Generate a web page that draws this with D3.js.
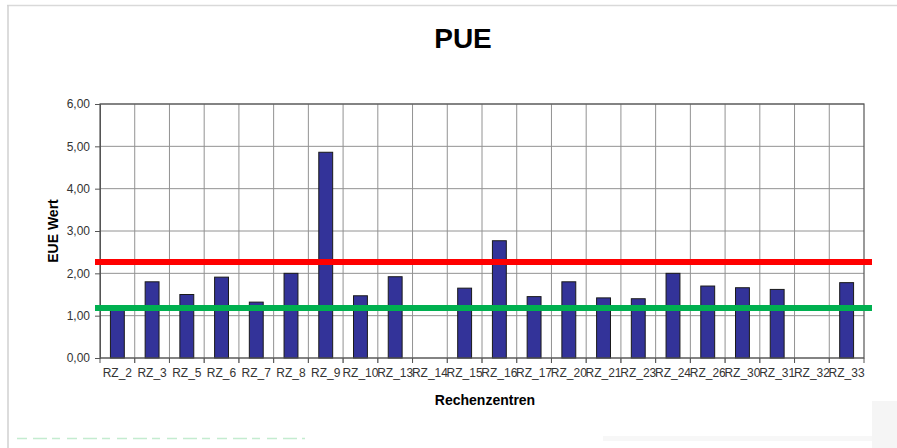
<!DOCTYPE html>
<html><head><meta charset="utf-8">
<script src="https://cdn.jsdelivr.net/npm/d3@7"></script>
<style>body{margin:0;background:#fff;}svg{display:block;font-family:"Liberation Sans",Arial,sans-serif;}</style>
</head><body>
<svg id="c" width="897" height="448"></svg>
<script>
const categories = ["RZ_2","RZ_3","RZ_5","RZ_6","RZ_7","RZ_8","RZ_9","RZ_10","RZ_13","RZ_14","RZ_15","RZ_16","RZ_17","RZ_20","RZ_21","RZ_23","RZ_24","RZ_26","RZ_30","RZ_31","RZ_32","RZ_33"];
const pueValues = [1.16,1.80,1.50,1.91,1.32,2.00,4.86,1.47,1.92,null,1.65,2.77,1.45,1.80,1.42,1.40,2.00,1.70,1.66,1.62,null,1.78];
const yTicks = [0,1,2,3,4,5,6];
const refLines = [{value:2.27,color:"#ff0000"},{value:1.18,color:"#00b050"}];

const svg = d3.select("#c");
const m = {left:100, right:864, top:104, bottom:358};
const x = d3.scaleBand().domain(categories).range([m.left,m.right]).paddingInner(0.6).paddingOuter(0.3);
const xb = d3.scaleBand().domain(categories).range([m.left,m.right]);
const y = d3.scaleLinear().domain([0,6]).range([m.bottom,m.top]);
const fmt = d => d3.format(".2f")(d).replace(".",",");

// frame artifacts
svg.append("line").attr("x1",7).attr("x2",897).attr("y1",5.5).attr("y2",5.5).attr("stroke","#d9d9d9").attr("stroke-width",1.5);
svg.append("line").attr("x1",8).attr("x2",8).attr("y1",5).attr("y2",448).attr("stroke","#d0d0d0").attr("stroke-width",1.5);
svg.append("rect").attr("x",872).attr("y",401).attr("width",25).attr("height",47).attr("fill","#f5f5f5");
svg.append("rect").attr("x",603).attr("y",436).attr("width",269).attr("height",5).attr("fill","#f7f7f7");
// faint green remnant of cut-off caption
svg.append("line").attr("x1",17).attr("x2",305).attr("y1",438.5).attr("y2",438.5)
  .attr("stroke","#c4ecd0").attr("stroke-width",1.5).attr("stroke-dasharray","10,6,14,5,8,7");

// gridlines
svg.append("g").selectAll("line").data(yTicks).join("line")
  .attr("x1",m.left).attr("x2",m.right).attr("y1",d=>y(d)).attr("y2",d=>y(d))
  .attr("stroke","#929292").attr("stroke-width",1);
svg.append("g").selectAll("line").data(categories.slice(1)).join("line")
  .attr("x1",d=>xb(d)).attr("x2",d=>xb(d)).attr("y1",m.top).attr("y2",m.bottom+5)
  .attr("stroke","#929292").attr("stroke-width",1);

// bars
svg.append("g").selectAll("rect").data(categories.map((c,i)=>({c,v:pueValues[i]})).filter(d=>d.v!=null)).join("rect")
  .attr("x",d=>x(d.c)).attr("width",x.bandwidth())
  .attr("y",d=>y(d.v)).attr("height",d=>y(0)-y(d.v))
  .attr("fill","#333399").attr("stroke","#1a1a1a").attr("stroke-width",1);

// plot border
svg.append("rect").attr("x",m.left).attr("y",m.top).attr("width",m.right-m.left).attr("height",m.bottom-m.top)
  .attr("fill","none").attr("stroke","#555").attr("stroke-width",1.2);

// axes
const yAxis = svg.append("g").attr("transform",`translate(${m.left},0)`)
  .call(d3.axisLeft(y).tickValues(yTicks).tickFormat(fmt).tickSize(5).tickPadding(5));
yAxis.select(".domain").attr("stroke","#555");
yAxis.selectAll(".tick line").attr("stroke","#555");
yAxis.selectAll("text").attr("font-size",12).attr("fill","#333").attr("font-family","Liberation Sans, Arial, sans-serif");

const xAxis = svg.append("g").attr("transform",`translate(0,${m.bottom})`)
  .call(d3.axisBottom(xb).tickSize(0).tickPadding(10));
xAxis.select(".domain").remove();
xAxis.selectAll("text").attr("font-size",12).attr("fill","#333").attr("font-family","Liberation Sans, Arial, sans-serif");
svg.append("g").selectAll("line").data([categories[0]].concat(categories)).join("line")
  .attr("x1",(d,i)=>i===0?m.left:xb(d)+xb.bandwidth()).attr("x2",(d,i)=>i===0?m.left:xb(d)+xb.bandwidth())
  .attr("y1",m.bottom).attr("y2",m.bottom+5).attr("stroke","#555");

// reference lines
svg.append("g").selectAll("line").data(refLines).join("line")
  .attr("x1",95).attr("x2",872).attr("y1",d=>y(d.value)).attr("y2",d=>y(d.value))
  .attr("stroke",d=>d.color).attr("stroke-width",6);

// titles
svg.append("text").attr("x",463).attr("y",48).attr("text-anchor","middle")
  .attr("font-size",28).attr("font-weight","bold").attr("fill","#000").text("PUE");
svg.append("text").attr("transform",`translate(58,${(m.top+m.bottom)/2}) rotate(-90)`).attr("text-anchor","middle")
  .attr("font-size",14).attr("font-weight","bold").attr("fill","#000").text("EUE Wert");
svg.append("text").attr("x",485).attr("y",405).attr("text-anchor","middle")
  .attr("font-size",14).attr("font-weight","bold").attr("fill","#000").text("Rechenzentren");
</script>
</body></html>
